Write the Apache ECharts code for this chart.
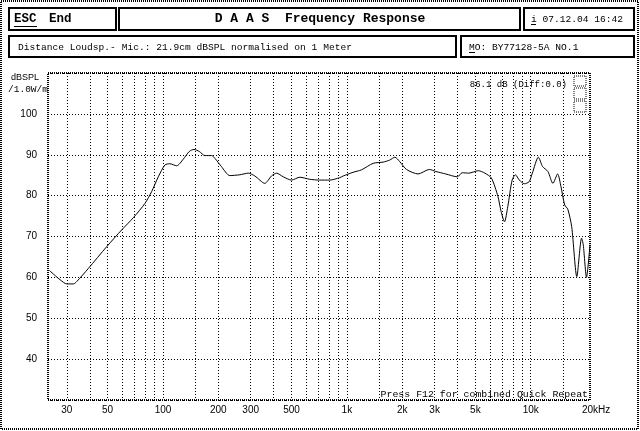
<!DOCTYPE html>
<html>
<head>
<meta charset="utf-8">
<script src="https://cdn.jsdelivr.net/npm/echarts@6/dist/echarts.min.js"></script>
<style>
html,body{margin:0;padding:0;background:#fff;}
#c{width:640px;height:431px;}
</style>
</head>
<body>
<div id="c"></div>
<script>
// ---- data ----
const freqHz = [24.1, 27.6, 30, 32.6, 34, 39.3, 49.4, 59.6, 69, 79.8, 86.8, 94.3, 102.5, 109, 118.7, 128.9, 139, 147.4, 157.6, 169, 184, 191.8, 208, 231, 262, 291, 316, 358, 389, 415, 451, 500, 555, 627, 710, 808, 915, 955, 1080, 1200, 1390, 1575, 1710, 1825, 1940, 2110, 2440, 2810, 3050, 3450, 3990, 4240, 4600, 5190, 5630, 6110, 6630, 6900, 7200, 7500, 7920, 8250, 8670, 9230, 9800, 10200, 11000, 11600, 12400, 13200, 14000, 14600, 15300, 15900, 16700, 17800, 18900, 19300, 20100, 21000];
const splDb = [61.7, 59.4, 58.4, 58.4, 59.0, 62.2, 67.5, 71.6, 74.6, 78.1, 81.0, 84.6, 87.5, 87.8, 87.3, 88.9, 90.8, 91.3, 90.8, 89.8, 89.8, 89.1, 87.1, 84.9, 85.1, 85.5, 84.8, 83.0, 84.8, 85.5, 84.6, 83.8, 84.5, 84.0, 83.8, 83.8, 84.4, 84.8, 85.7, 86.3, 87.9, 88.2, 88.7, 89.4, 88.3, 86.4, 85.3, 86.4, 85.9, 85.3, 84.6, 85.6, 85.5, 86.1, 85.5, 84.3, 79.8, 76.1, 73.6, 77.3, 83.8, 85.1, 83.8, 82.9, 83.4, 85.5, 89.4, 87.1, 85.9, 83.0, 85.3, 82.2, 77.7, 76.7, 72.4, 60.2, 69.6, 68.0, 60.0, 68.0];
const xGridValues = [30, 40, 50, 60, 70, 80, 90, 100, 150, 200, 300, 400, 500, 600, 700, 800, 900, 1000, 1500, 2000, 3000, 4000, 5000, 6000, 7000, 8000, 9000, 10000, 15000];
const xLabelValues = [30, 50, 100, 200, 300, 500, 1000, 2000, 3000, 5000, 10000, 20000];
const yLabelValues = [40, 50, 60, 70, 80, 90, 100];
const titleText = 'D A A S  Frequency Response';
const infoText = 'Distance Loudsp.- Mic.: 21.9cm dBSPL normalised on 1 Meter';
const dateText = ' 07.12.04 16:42';
const modelText = 'O: BY77128-5A NO.1';
const levelText = '86.1 dB (Diff:0.0)';
const footText = 'Press F12 for combined Quick Repeat';

const chart = echarts.init(document.getElementById('c'), null, {renderer: 'canvas'});
const mono = '"Liberation Mono", "DejaVu Sans Mono", monospace';
const sans = '"Liberation Sans", Arial, sans-serif';

function box(x, y, w, h) {
  return {type: 'rect', shape: {x: x, y: y, width: w, height: h},
    style: {fill: '#fff', stroke: '#000', lineWidth: 2}};
}
function txt(x, y, t, font, extra) {
  return Object.assign({type: 'text', x: x, y: y,
    style: Object.assign({text: t, font: font, fill: '#000', textVerticalAlign: 'middle'}, extra || {})}, {});
}
function fmtFreq(v) {
  if (v >= 1000) return (v / 1000) + 'k';
  return String(v);
}

const option = {
  backgroundColor: '#fff',
  animation: false,
  grid: {left: 48, top: 73, right: 50, bottom: 31, show: true,
    borderColor: '#000', borderWidth: 2, borderType: [1, 1], backgroundColor: 'transparent'},
  xAxis: {
    type: 'log', logBase: 10, min: 23.7, max: 21000,
    axisLine: {show: false},
    axisTick: {show: false, customValues: xGridValues},
    splitLine: {show: true, lineStyle: {color: '#000', width: 1, type: [1, 2]}},
    axisLabel: {
      customValues: xLabelValues, margin: 5, color: '#000', fontFamily: sans, fontSize: 10,
      formatter: function (v) { return v === 20000 ? '{hz|20kHz}' : fmtFreq(v); },
      rich: {hz: {padding: [0, 0, 0, 20], fontFamily: sans, fontSize: 10, color: '#000'}}
    }
  },
  yAxis: {
    type: 'value', min: 30, max: 110, interval: 10,
    axisLine: {show: false}, axisTick: {show: false},
    splitLine: {show: true, lineStyle: {color: '#000', width: 1, type: [1, 2]}},
    axisLabel: {color: '#000', fontFamily: sans, fontSize: 10, margin: 11,
      formatter: function (v) { return yLabelValues.indexOf(v) >= 0 ? String(v) : ''; }}
  },
  series: [{
    type: 'line', data: freqHz.map(function (f, i) { return [f, splDb[i]]; }),
    showSymbol: false, smooth: 0.25, lineStyle: {color: '#000', width: 1}, z: 5
  }],
  graphic: [
    // outer checkered frame
    {type: 'rect', shape: {x: 1, y: 1, width: 637, height: 428}, style: {fill: 'none', stroke: '#000', lineWidth: 2, lineDash: [1, 1]}, z: 1},
    box(9, 8, 107, 22), box(119, 8, 401, 22), box(524, 8, 110, 22),
    box(9, 36, 447, 21), box(461, 36, 173, 21),
    txt(14, 19, 'ESC', 'bold 12.5px ' + mono),
    {type: 'rect', shape: {x: 14, y: 26, width: 23, height: 1}, style: {fill: '#000'}},
    txt(49, 19, 'End', 'bold 12.5px ' + mono),
    txt(320, 19, titleText, 'bold 13px ' + mono, {textAlign: 'center'}),
    txt(531, 19, 'i' + dateText, '9.6px ' + mono),
    {type: 'rect', shape: {x: 531, y: 24, width: 5, height: 1}, style: {fill: '#000'}},
    txt(18, 47, infoText, '9.6px ' + mono),
    txt(469, 47, 'M' + modelText, '9.6px ' + mono),
    {type: 'rect', shape: {x: 469, y: 52, width: 6, height: 1}, style: {fill: '#000'}},
    txt(25, 78, 'dBSPL', '9px ' + sans, {textAlign: 'center'}),
    txt(28, 89, '/1.0W/m', '9.5px ' + mono, {textAlign: 'center'}),
    txt(567, 85, levelText, '9px ' + mono, {textAlign: 'right'}),
    txt(588, 394, footText, '9.9px ' + mono, {textAlign: 'right'}),
    // small scale icon
    {type: 'rect', shape: {x: 574, y: 76, width: 12, height: 10}, style: {fill: 'none', stroke: '#000', lineWidth: 1, lineDash: [1, 1]}},
    {type: 'rect', shape: {x: 574, y: 88, width: 12, height: 11}, style: {fill: 'none', stroke: '#000', lineWidth: 1, lineDash: [1, 1]}},
    {type: 'rect', shape: {x: 574, y: 101, width: 12, height: 11}, style: {fill: 'none', stroke: '#000', lineWidth: 1, lineDash: [1, 1]}}
  ]
};
chart.setOption(option);
</script>
</body>
</html>
